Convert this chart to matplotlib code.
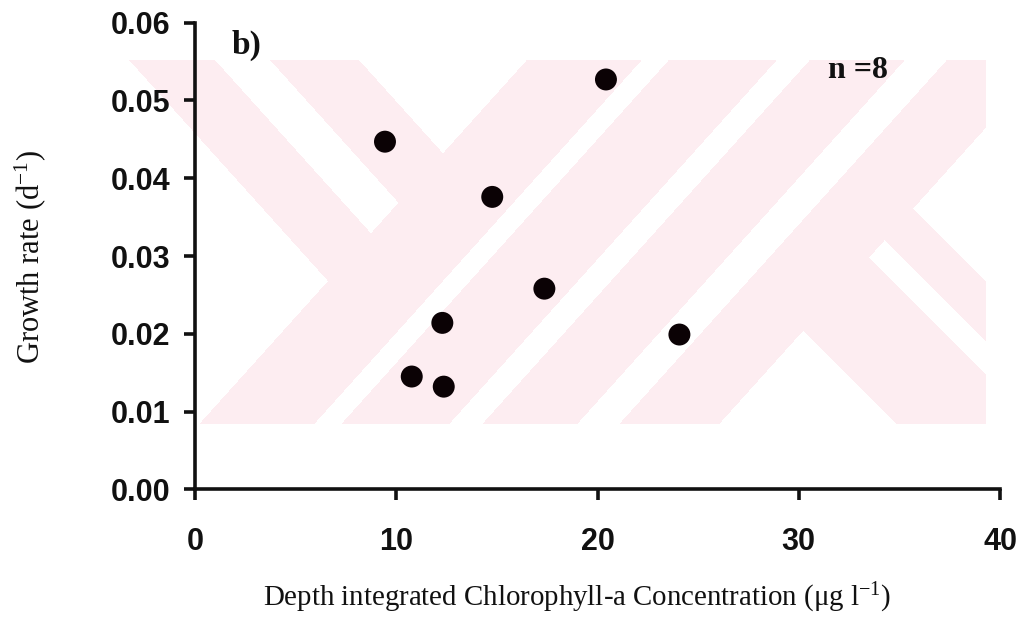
import numpy as np
import matplotlib
matplotlib.use("Agg")
import matplotlib.pyplot as plt

# ---- data ----
chl = [9.44, 20.42, 14.77, 17.36, 12.29, 24.07, 10.77, 12.36]
growth = [0.0447, 0.0527, 0.0376, 0.0258, 0.0214, 0.0199, 0.0145, 0.0132]
xticks = [0, 10, 20, 30, 40]
yticks = [0.00, 0.01, 0.02, 0.03, 0.04, 0.05, 0.06]
ytick_labels = ["0.00", "0.01", "0.02", "0.03", "0.04", "0.05", "0.06"]
panel_label = "b)"
n_label = "n =8"

plt.rcParams['mathtext.fontset'] = 'custom'
plt.rcParams['mathtext.rm'] = 'Liberation Serif'
plt.rcParams['mathtext.it'] = 'Liberation Serif:italic'
plt.rcParams['mathtext.bf'] = 'Liberation Serif:bold'

W, H = 1019, 637
fig = plt.figure(figsize=(W / 100, H / 100), dpi=100)
fig.patch.set_facecolor('white')

# ---- faint background watermark (decorative) ----
yy, xx = np.mgrid[0:H, 0:W].astype(float)
inR = (xx >= 125) & (xx <= 985) & (yy >= 60) & (yy <= 423)
up = xx + 0.9 * yy
vl = xx - 0.9 * yy
v = xx - yy
left = (up < 580) & (((vl >= 75) & (vl < 161)) | ((vl >= 216) & (vl < 305)))
mid = (up >= 580) & (up < 1100) & ~(((up >= 695) & (up < 722)) |
                                    ((up >= 830) & (up < 863)) |
                                    ((up >= 958) & (up < 1000)))
right = (up >= 1100) & (((v >= 473) & (v < 612)) | ((v >= 645) & (v < 705)))
mask = inR & (left | mid | right)
img = np.ones((H, W, 4))
img[..., 3] = 0.0
pink = np.array([253, 237, 241]) / 255.0
img[mask, 0:3] = pink
img[mask, 3] = 1.0
fig.figimage(img, xo=0, yo=0, origin='upper', zorder=0)

# ---- axes ----
ax = fig.add_axes([195 / W, (H - 489.3) / H, (1000 - 195) / W, (489.3 - 22.7) / H])
ax.set_zorder(2)
ax.patch.set_alpha(0.0)
ax.scatter(chl, growth, s=250, color='#0b0205', edgecolors='none', zorder=3, clip_on=False)

ax.set_xlim(0, 40)
ax.set_ylim(0, 0.06)
ax.set_xticks(xticks)
ax.set_xticklabels([str(t) for t in xticks])
ax.set_yticks(yticks)
ax.set_yticklabels(ytick_labels)

for s in ['top', 'right']:
    ax.spines[s].set_visible(False)
for s in ['left', 'bottom']:
    ax.spines[s].set_linewidth(2.6)
    ax.spines[s].set_color('#111111')

ax.tick_params(axis='both', direction='out', length=8, width=2.6, color='#111111')
ax.tick_params(axis='y', pad=10)
ax.tick_params(axis='x', pad=19)
for lab in ax.get_xticklabels() + ax.get_yticklabels():
    lab.set_fontfamily('Liberation Sans')
    lab.set_fontweight('bold')
    lab.set_fontsize(22)
    lab.set_color('#111111')

# ---- texts ----
fig.text(232 / W, 1 - 45 / H, panel_label, fontfamily='Liberation Serif',
         fontweight='bold', fontsize=24, ha='left', va='center', color='#111111', zorder=5)
fig.text(828 / W, 1 - 70 / H, n_label, fontfamily='Liberation Serif',
         fontweight='bold', fontsize=23, ha='left', va='center', color='#111111', zorder=5)
fig.text(30 / W, 1 - 257 / H, 'Growth rate (d$^{\\mathrm{-1}}$)', fontfamily='Liberation Serif',
         fontsize=22, rotation=90, ha='center', va='center', color='#111111', zorder=5)
fig.text(577 / W, 1 - 598 / H, 'Depth integrated Chlorophyll-a Concentration (μg l$^{\\mathrm{-1}}$)',
         fontfamily='Liberation Serif', fontsize=20.8, ha='center', va='center', color='#111111', zorder=5)

fig.savefig('out.png', dpi=100)
